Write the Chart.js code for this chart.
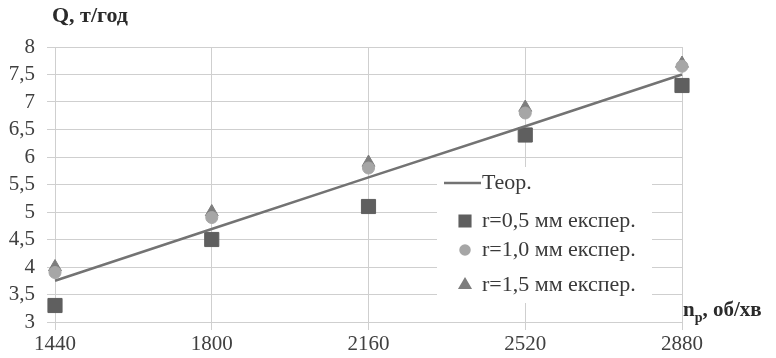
<!DOCTYPE html>
<html>
<head>
<meta charset="utf-8">
<script src="https://cdn.jsdelivr.net/npm/chart.js@4/dist/chart.umd.min.js"></script>
<style>
  html, body { margin: 0; padding: 0; background: #fff; }
  #wrap { position: relative; width: 776px; height: 358px; }
</style>
</head>
<body>
<div id="wrap"><canvas id="c" width="776" height="358"></canvas></div>
<script>
// Rotor speed, rpm
const speeds = ['1440', '1800', '2160', '2520', '2880'];
// Theoretical productivity, t/h
const theory = [3.75, 4.69, 5.63, 6.56, 7.5];
// Experimental productivity for three gap sizes, t/h
const r05 = [3.3, 4.5, 5.1, 6.4, 7.3];
const r10 = [3.9, 4.9, 5.8, 6.8, 7.65];
const r15 = [4.0, 5.0, 5.9, 6.9, 7.7];

const seriesNames = ['Теор.', 'r=0,5 мм експер.', 'r=1,0 мм експер.', 'r=1,5 мм експер.'];
const yTitle = 'Q, т/год';

const SERIF = '"Liberation Serif", "DejaVu Serif", serif';

const legendBox = {
  id: 'legendBox',
  afterDatasetsDraw(chart) {
    const ctx = chart.ctx;
    ctx.save();
    ctx.fillStyle = '#ffffff';
    ctx.fillRect(437, 167, 215, 136);
    const rows = [183, 221, 250, 285];
    chart.data.datasets.forEach((ds, i) => {
      const y = rows[i];
      if (i === 0) {
        ctx.strokeStyle = ds.borderColor;
        ctx.lineWidth = 2.5;
        ctx.beginPath();
        ctx.moveTo(444, y);
        ctx.lineTo(481, y);
        ctx.stroke();
      } else {
        ctx.fillStyle = ds.backgroundColor;
        ctx.strokeStyle = ds.backgroundColor;
        Chart.helpers.drawPoint(ctx, {
          pointStyle: ds.pointStyle, radius: ds.pointRadius * 0.75, rotation: 0, borderWidth: 1
        }, 465, y);
      }
      ctx.fillStyle = '#3a3a3a';
      ctx.font = '22px ' + SERIF;
      ctx.textAlign = 'left';
      ctx.textBaseline = 'middle';
      ctx.fillText(ds.label, 482, y);
    });
    ctx.restore();
  },
  afterDraw(chart) {
    const ctx = chart.ctx;
    ctx.save();
    ctx.fillStyle = '#2a2a2a';
    ctx.textBaseline = 'middle';
    ctx.textAlign = 'left';
    ctx.font = 'bold 22px ' + SERIF;
    ctx.fillText(yTitle, 52, 16);
    // x-axis title with subscript
    ctx.font = 'bold 21px ' + SERIF;
    ctx.fillText('n', 683, 311);
    const nW = ctx.measureText('n').width;
    ctx.font = 'bold 14px ' + SERIF;
    ctx.fillText('р', 683 + nW, 318);
    const pW = ctx.measureText('р').width;
    ctx.font = 'bold 21px ' + SERIF;
    ctx.fillText(', об/хв', 683 + nW + pW, 311);
    ctx.restore();
  }
};

new Chart(document.getElementById('c'), {
  type: 'line',
  data: {
    labels: speeds,
    datasets: [
      { label: seriesNames[0], data: theory, borderColor: '#737373', borderWidth: 2.5,
        pointRadius: 0, fill: false, tension: 0, order: 1 },
      { label: seriesNames[1], data: r05, showLine: false, pointStyle: 'rect',
        pointRadius: 10, backgroundColor: '#5f5f5f', borderColor: '#5f5f5f', order: 2 },
      { label: seriesNames[2], data: r10, showLine: false, pointStyle: 'circle',
        pointRadius: 6, backgroundColor: '#a6a6a6', borderColor: '#a6a6a6', order: 3 },
      { label: seriesNames[3], data: r15, showLine: false, pointStyle: 'triangle',
        pointRadius: 7.5, backgroundColor: '#7d7d7d', borderColor: '#7d7d7d', order: 4 }
    ]
  },
  options: {
    responsive: false,
    animation: false,
    layout: { padding: { left: 0, right: 94, top: 47, bottom: 0 } },
    plugins: { legend: { display: false }, tooltip: { enabled: false } },
    scales: {
      x: {
        type: 'category',
        offset: false,
        grid: { color: '#cfcfcf', lineWidth: 1, tickLength: 8, drawTicks: true },
        border: { color: '#cfcfcf' },
        ticks: { color: '#404040', font: { family: SERIF, size: 21 }, padding: 2, maxRotation: 0, autoSkip: false },
        afterFit(s) { s.height = 36; }
      },
      y: {
        min: 3, max: 8,
        ticks: {
          stepSize: 0.5, autoSkip: false, color: '#404040', font: { family: SERIF, size: 21 }, padding: 12,
          callback: v => String(v).replace('.', ',')
        },
        grid: { color: '#cfcfcf', lineWidth: 1, tickLength: 8 },
        border: { color: '#cfcfcf' },
        afterFit(s) { s.width = 55; }
      }
    }
  },
  plugins: [legendBox]
});
</script>
</body>
</html>
